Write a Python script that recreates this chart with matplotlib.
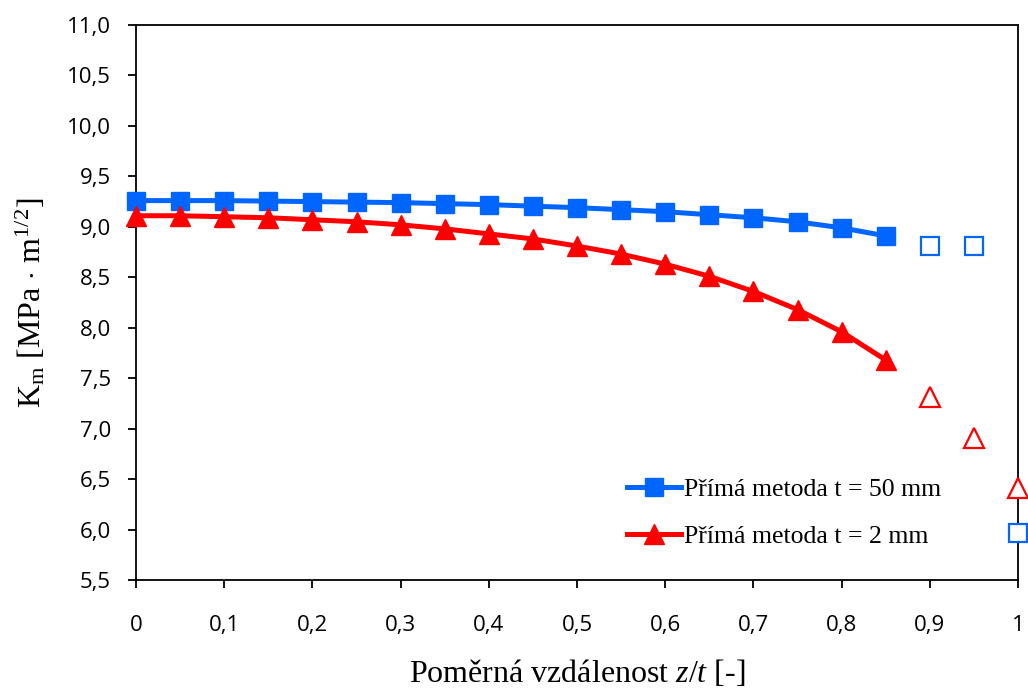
import matplotlib
matplotlib.use("Agg")
import matplotlib.pyplot as plt
from matplotlib.ticker import FuncFormatter, MultipleLocator

plt.rcParams['mathtext.fontset'] = 'custom'
plt.rcParams['mathtext.rm'] = 'Liberation Serif'
plt.rcParams['mathtext.it'] = 'Liberation Serif:italic'

# z/t positions
z_full = [0, 0.05, 0.1, 0.15, 0.2, 0.25, 0.3, 0.35, 0.4, 0.45, 0.5,
          0.55, 0.6, 0.65, 0.7, 0.75, 0.8, 0.85]
z_tail = [0.9, 0.95, 1.0]

# Km values, t = 50 mm
km_50 = [9.26, 9.26, 9.26, 9.255, 9.25, 9.245, 9.24, 9.23, 9.22, 9.205, 9.19,
         9.17, 9.15, 9.12, 9.09, 9.05, 8.99, 8.91]
km_50_tail = [8.81, 8.81, 5.97]

# Km values, t = 2 mm
km_2 = [9.11, 9.11, 9.10, 9.09, 9.07, 9.05, 9.02, 8.98, 8.93, 8.88, 8.81,
        8.73, 8.63, 8.51, 8.36, 8.18, 7.96, 7.68]
km_2_tail = [7.31, 6.91, 6.41]

blue = '#0066FF'
red = '#FF0000'

fig = plt.figure(figsize=(10.28, 6.91), dpi=100)
ax = fig.add_axes([0.1323, 0.1606, 0.8580, 0.8032])

ax.plot(z_full, km_50, color=blue, lw=3.6, marker='s', ms=13,
        label='Přímá metoda t = 50 mm', clip_on=False, zorder=3)
ax.plot(z_full, km_2, color=red, lw=3.6, marker='^', ms=14,
        label='Přímá metoda t = 2 mm', clip_on=False, zorder=3)
ax.plot(z_tail, km_50_tail, ls='none', marker='s', ms=13, mfc='white',
        mec=blue, mew=1.6, clip_on=False, zorder=4)
ax.plot(z_tail, km_2_tail, ls='none', marker='^', ms=14, mfc='white',
        mec=red, mew=1.6, clip_on=False, zorder=4)

ax.set_xlim(0, 1)
ax.set_ylim(5.5, 11.0)
ax.xaxis.set_major_locator(MultipleLocator(0.1))
ax.yaxis.set_major_locator(MultipleLocator(0.5))

def comma(v, pos, nd):
    if nd == 0:
        s = ('%.1f' % v).rstrip('0').rstrip('.')
    else:
        s = '%.*f' % (nd, v)
    return s.replace('.', ',')

ax.xaxis.set_major_formatter(FuncFormatter(lambda v, p: comma(v, p, 0)))
ax.yaxis.set_major_formatter(FuncFormatter(lambda v, p: comma(v, p, 1)))

for s in ax.spines.values():
    s.set_linewidth(1.3)
ax.tick_params(axis='both', direction='out', length=6, width=1.3,
               labelsize=16)
ax.tick_params(axis='x', pad=19)
ax.tick_params(axis='y', pad=12)
for lab in ax.get_xticklabels() + ax.get_yticklabels():
    lab.set_fontfamily('Open Sans')

ax.set_xlabel(r'Poměrná vzdálenost $z/t$ [-]', fontfamily='Liberation Serif',
              fontsize=23, labelpad=16)
ax.set_ylabel(r'K$_\mathrm{m}$ [MPa $\cdot$ m$^{1/2}$]',
              fontfamily='Liberation Serif', fontsize=23, labelpad=14)

ax.legend(loc='lower left', bbox_to_anchor=(0.545, 0.04), frameon=False,
          prop={'family': 'Liberation Serif', 'size': 18.5},
          handlelength=2.1, handletextpad=0.1, labelspacing=0.9,
          borderaxespad=0)

fig.savefig('out.png', dpi=100)
